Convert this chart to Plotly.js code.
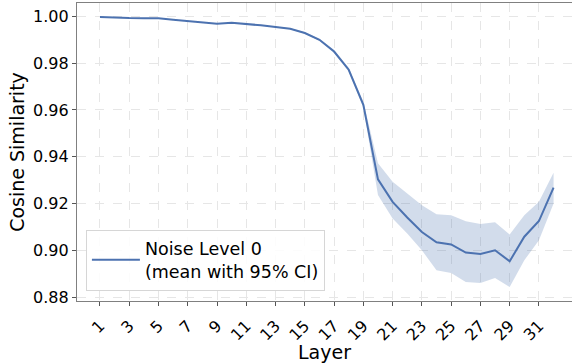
<!DOCTYPE html>
<html><head><meta charset="utf-8">
<script src="https://cdn.plot.ly/plotly-3.0.1.min.js"></script>
<style>html,body{margin:0;padding:0;background:#fff}#chart{width:572px;height:363px}</style>
</head><body><div id="chart"></div>
<script>
const layers = [1,2,3,4,5,6,7,8,9,10,11,12,13,14,15,16,17,18,19,20,21,22,23,24,25,26,27,28,29,30,31,32];
const meanVals = [0.9998,0.9994,0.9993,0.9992,0.9992,0.9986,0.998,0.9975,0.9969,0.9973,0.9969,0.9962,0.9955,0.9947,0.9929,0.99,0.985,0.9772,0.9622,0.9303,0.9207,0.914,0.9078,0.9034,0.9025,0.899,0.8984,0.90,0.8953,0.9058,0.9125,0.9268];
const upperCI = [0.9999,0.9995,0.9994,0.9993,0.9993,0.9987,0.9981,0.9976,0.997,0.9974,0.997,0.9963,0.9957,0.9949,0.9932,0.9904,0.9856,0.978,0.9635,0.9372,0.9293,0.9243,0.9193,0.9154,0.915,0.9124,0.9112,0.912,0.9067,0.915,0.9207,0.9331];
const lowerCI = [0.9997,0.9993,0.9992,0.9991,0.9991,0.9985,0.9979,0.9974,0.9968,0.9972,0.9968,0.9961,0.9953,0.9945,0.9926,0.9896,0.9844,0.9764,0.961,0.9236,0.9136,0.9072,0.90,0.8914,0.8903,0.8864,0.886,0.8881,0.8843,0.8957,0.9043,0.92];
const xTicks = [1,3,5,7,9,11,13,15,17,19,21,23,25,27,29,31];
const yTicks = [0.88,0.90,0.92,0.94,0.96,0.98,1.00];

const blue = '#4c72b0';
const font = 'DejaVu Sans, sans-serif';
const traces = [
  {x: layers, y: upperCI, mode:'lines', line:{width:0, color:blue}, showlegend:false, hoverinfo:'skip'},
  {x: layers, y: lowerCI, mode:'lines', line:{width:0, color:blue}, fill:'tonexty', fillcolor:'rgba(76,114,176,0.25)', showlegend:false, hoverinfo:'skip'},
  {x: layers, y: meanVals, mode:'lines', line:{width:2, color:blue}, name:'Noise Level 0<br>(mean with 95% CI)'}
];
const layout = {
  width:572, height:363,
  margin:{l:77, r:0, t:3, b:62},
  paper_bgcolor:'#fff', plot_bgcolor:'#fff',
  font:{family:font, size:16, color:'#000'},
  xaxis:{range:[-0.57,33.26], tickvals:xTicks, ticktext:xTicks.map(String), tickangle:-45,
    showline:true, linecolor:'#808080', linewidth:1.2, mirror:true,
    ticks:'outside', ticklen:4, tickcolor:'#555', ticklabelstandoff:4,
    showgrid:true, gridcolor:'#e6e6e6', griddash:'dash', gridwidth:1, zeroline:false,
    tickfont:{size:16, family:font},
    title:{text:'Layer', font:{size:19, family:font}, standoff:0}},
  yaxis:{range:[0.8783,1.00574], tickvals:yTicks, ticktext:yTicks.map(v=>v.toFixed(2)),
    showline:true, linecolor:'#808080', linewidth:1.2, mirror:false,
    ticks:'outside', ticklen:4, tickcolor:'#555',
    showgrid:true, gridcolor:'#e6e6e6', griddash:'dash', gridwidth:1, zeroline:false,
    tickfont:{size:16, family:font},
    title:{text:'Cosine Similarity', font:{size:19, family:font}, standoff:3}},
  legend:{x:0.018, y:0.035, xanchor:'left', yanchor:'bottom', bgcolor:'rgba(255,255,255,0.85)',
    bordercolor:'#d6d6d6', borderwidth:1, font:{size:17.5, family:font}, itemwidth:48},
  showlegend:true
};
Plotly.newPlot('chart', traces, layout, {staticPlot:true, displayModeBar:false});
</script></body></html>
